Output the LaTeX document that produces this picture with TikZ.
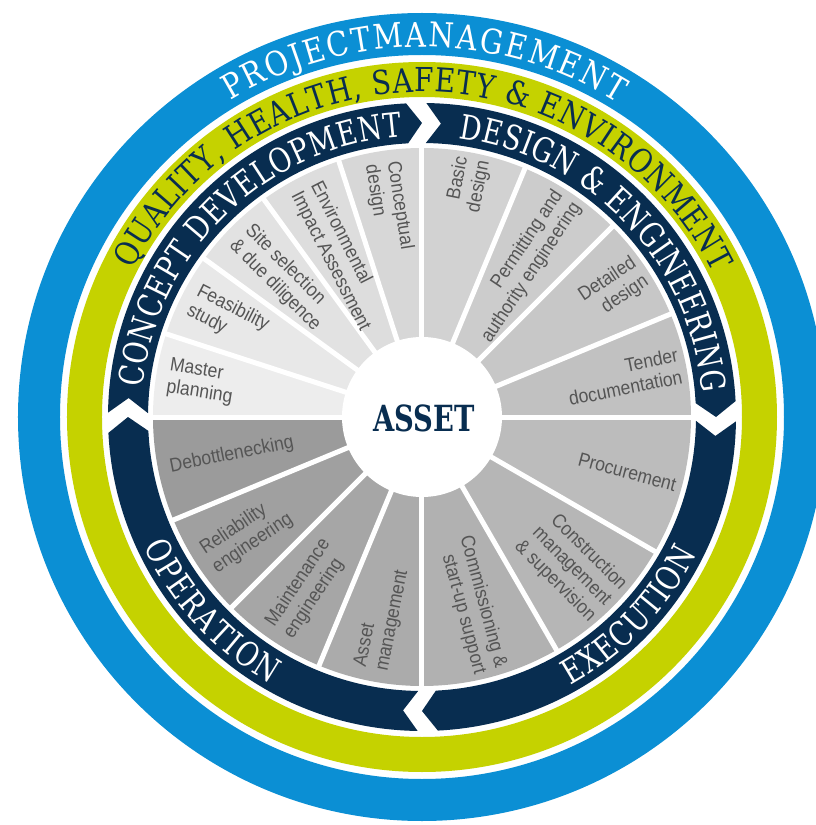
\documentclass[tikz,border=0pt]{standalone}
\usepackage{fontspec}
\usetikzlibrary{decorations.text}
\newfontfamily\ringfont[FakeStretch=0.85]{DejaVu Serif}
\newfontfamily\phasefont[FakeStretch=0.8]{DejaVu Serif}
\newfontfamily\assetfont[FakeStretch=0.76]{DejaVu Serif}
\newfontfamily\segfont[FakeStretch=0.9]{Liberation Sans}
\definecolor{pmblue}{HTML}{0B8FD4}
\definecolor{qhsegreen}{HTML}{C5D200}
\definecolor{phasenavy}{HTML}{082D50}
\definecolor{segtext}{HTML}{555555}
\tikzset{
  seglabel/.style={inner sep=0pt, text=segtext, font=\segfont\fontsize{19.5}{22}\selectfont},
  seginL/.style={seglabel, anchor=west, align=left},
  segoutR/.style={seglabel, anchor=east, align=right},
  divider/.style={white, line width=5pt},
}
\def\chevd{2.9}% chevron depth (degrees at mid radius)
\def\chevg{3.7}% gap between arrow head and next tail (degrees)
\begin{document}
\begin{tikzpicture}[x=1pt,y=1pt]
\useasboundingbox (-422,-408) rectangle (394,417);
\fill[white] (-422,-408) rectangle (394,417);

% outer rings
\fill[pmblue, even odd rule] (0,0) circle[radius=404] (0,0) circle[radius=362];
\fill[qhsegreen, even odd rule] (0,0) circle[radius=355] (0,0) circle[radius=320];

% phase arrows (clockwise), tail boundary / head boundary
\foreach \s/\e in {180/90, 90/0, 0/-90, -90/-180}{
  \pgfmathsetmacro\ta{\s-\chevg+\chevd}
  \pgfmathsetmacro\tn{\s-\chevg}
  \pgfmathsetmacro\hs{\e+\chevd}
  \fill[phasenavy] (\ta:314) arc[start angle=\ta, end angle=\hs, radius=314]
    -- (\e:294) -- (\hs:274) arc[start angle=\hs, end angle=\ta, radius=274]
    -- (\tn:294) -- cycle;
}

% activity sectors, shaded clockwise from light to dark
\foreach \a/\b/\g in {162/180/92.9, 144/162/91, 126/144/88.6, 108/126/86.7, 90/108/84.3,
    67.5/90/82.4, 45/67.5/80, 22.5/45/78, 0/22.5/75.7,
    -30/0/73.7, -60/-30/71.4, -90/-60/69.4,
    247.5/270/67.1, 225/247.5/65.1, 202.5/225/62.7, 180/202.5/60.8}{
  \fill[white!\g!black] (0,0) -- (\a:269) arc[start angle=\a, end angle=\b, radius=269] -- cycle;
}
\foreach \d in {0,22.5,45,67.5,90,108,126,144,162,180,202.5,225,247.5,270,300,330}{
  \draw[divider] (0,0) -- (\d:272);
}
\fill[white] (0,0) circle[radius=80];

\node[font=\assetfont\bfseries\fontsize{36}{36}\selectfont, text=phasenavy, inner sep=0pt] (asset) at (2,-1) {ASSET};

% activity labels, left half read towards the centre
\node[seginL, rotate=-9]    (master)  at (171:257) {Master\\planning};
\node[seginL, rotate=-27]   (feasib)  at (153:257) {Feasibility\\study};
\node[seginL, rotate=-45]   (site)    at (135:257) {Site selection\\\& due diligence};
\node[seginL, rotate=-63]   (eia)     at (117:257) {Environmental\\Impact Assessment};
\node[seginL, rotate=-81]   (concept) at (99:257)  {Conceptual\\design};
\node[seginL, rotate=78.75] (assetm)  at (258.75:257) {Asset\\management};
\node[seginL, rotate=56.25] (maint)   at (236.25:257) {Maintenance\\engineering};
\node[seginL, rotate=33.75] (reliab)  at (213.75:257) {Reliability\\engineering};
\node[seginL, rotate=11.25] (debott)  at (191.25:257) {Debottlenecking};
% right half read outwards
\node[segoutR, rotate=78.75] (basic)   at (78.75:263) {Basic\\design};
\node[segoutR, rotate=56.25] (permit)  at (56.25:263) {Permitting and\\authority engineering};
\node[segoutR, rotate=33.75] (detail)  at (33.75:263) {Detailed\\design};
\node[segoutR, rotate=11.25] (tender)  at (11.25:263) {Tender\\documentation};
\node[segoutR, rotate=-15]   (procure) at (-15:263) {Procurement};
\node[segoutR, rotate=-45]   (constr)  at (-45:263) {Construction\\management\\\& supervision};
\node[segoutR, rotate=-75]   (commis)  at (-75:263) {Commissioning \&\\start-up support};

% ring captions
\path[decorate, decoration={text along path, text align=fit to path,
  text={|\ringfont\fontsize{34}{34}\selectfont\color{white}|PROJECTMANAGEMENT}}]
  (121.2:370) arc[start angle=121.2, end angle=58, radius=370];
\path[decorate, decoration={text along path, text align=fit to path,
  text={|\ringfont\fontsize{33}{33}\selectfont\color{phasenavy}|QUALITY, HEALTH, SAFETY {\&} ENVIRONMENT}}]
  (153:325) arc[start angle=153, end angle=26.3, radius=325];
\path[decorate, decoration={text along path, text align=fit to path,
  text={|\phasefont\fontsize{34}{34}\selectfont\color{white}|CONCEPT DEVELOPMENT}}]
  (174:281) arc[start angle=174, end angle=94, radius=281];
\path[decorate, decoration={text along path, text align=fit to path,
  text={|\phasefont\fontsize{34}{34}\selectfont\color{white}|DESIGN {\&} ENGINEERING}}]
  (82.5:281) arc[start angle=82.5, end angle=5, radius=281];
\path[decorate, decoration={text along path, text align=fit to path,
  text={|\phasefont\fontsize{34}{34}\selectfont\color{white}|EXECUTION}}]
  (-61:307) arc[start angle=-61, end angle=-26.5, radius=307];
\path[decorate, decoration={text along path, text align=fit to path,
  text={|\phasefont\fontsize{34}{34}\selectfont\color{white}|OPERATION}}]
  (205:307) arc[start angle=205, end angle=240.5, radius=307];
\end{tikzpicture}
\end{document}
